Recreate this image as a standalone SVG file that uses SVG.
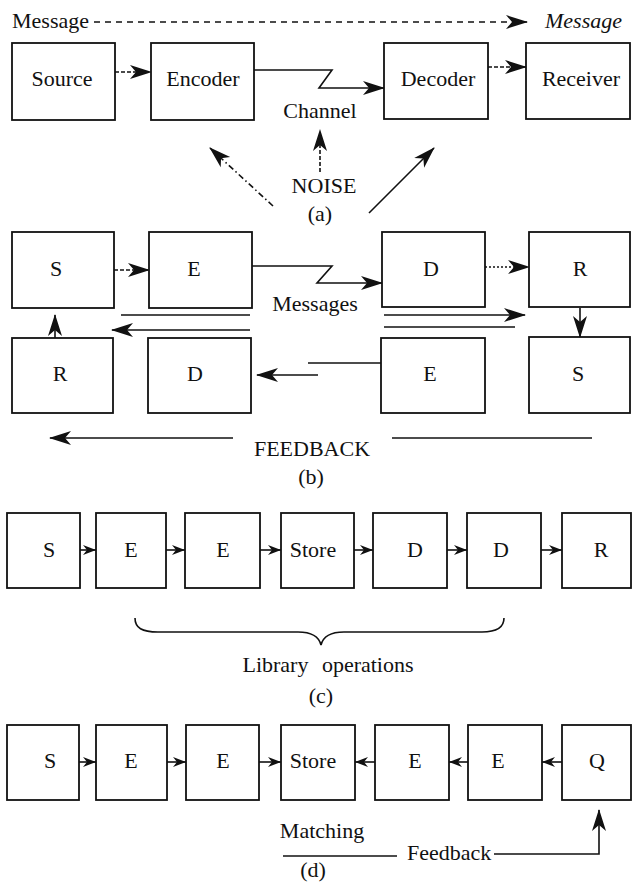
<svg xmlns="http://www.w3.org/2000/svg" width="632" height="882" viewBox="0 0 632 882">
<defs>
<marker id="ah" markerWidth="22" markerHeight="16" refX="21" refY="8" orient="auto" markerUnits="userSpaceOnUse"><path d="M0,1 L22,8 L0,15 L6,8 z" fill="#111"/></marker>
<marker id="sh" markerWidth="13" markerHeight="10" refX="13" refY="5" orient="auto" markerUnits="userSpaceOnUse"><path d="M0,0 L13,5 L0,10 L4,5 z" fill="#111"/></marker>
</defs>
<style>
rect{fill:#fff;stroke:#111;stroke-width:1.8}
text{fill:#111;font-family:Liberation Serif,DejaVu Serif,Times New Roman,serif;font-size:22px}
.m{text-anchor:middle}
line,polyline,path.l{fill:none;stroke:#111;stroke-width:1.6}
.a{marker-end:url(#ah)}
.s{marker-end:url(#sh)}
.d{stroke-dasharray:6,5}
.ds{stroke-dasharray:4,2}
.dt{stroke-dasharray:2,2}
.dd{stroke-dasharray:6,3,1.5,3}
</style>
<g id="connectors">
<line class="d a" x1="94" y1="22" x2="527" y2="22"/>
<line class="ds a" x1="115" y1="72" x2="151" y2="72"/>
<polyline class="a" points="254,70 332,70 319,88 384,88"/>
<line class="ds a" x1="488" y1="67" x2="526" y2="67"/>
<line class="ds a" x1="320" y1="172" x2="320" y2="130"/>
<line class="dd a" x1="273" y1="206" x2="210" y2="148"/>
<line class="a" x1="369" y1="213" x2="434" y2="148"/>
<line class="ds a" x1="114" y1="270" x2="149" y2="270"/>
<polyline class="a" points="252,266 332,266 317,283 382,283"/>
<line class="dt a" x1="485" y1="267" x2="529" y2="267"/>
<line class="a" x1="55" y1="338" x2="55" y2="315"/>
<line class="a" x1="580" y1="308" x2="580" y2="337"/>
<line x1="121" y1="315" x2="250" y2="315"/>
<line class="a" x1="250" y1="330" x2="112" y2="330"/>
<line class="a" x1="384" y1="315" x2="525" y2="315"/>
<line x1="384" y1="327" x2="515" y2="327"/>
<line x1="381" y1="363" x2="308" y2="363"/>
<line class="a" x1="318" y1="375" x2="257" y2="375"/>
<line class="a" x1="233" y1="438" x2="50" y2="438"/>
<line x1="392" y1="438" x2="592" y2="438"/>
<line class="s" x1="80" y1="550" x2="96" y2="550"/>
<line class="s" x1="166" y1="550" x2="185" y2="550"/>
<line class="s" x1="260" y1="550" x2="281" y2="550"/>
<line class="s" x1="354" y1="550" x2="373" y2="550"/>
<line class="s" x1="447" y1="550" x2="467" y2="550"/>
<line class="s" x1="541" y1="550" x2="562" y2="550"/>
<path class="l" d="M135,618 C135,628 142,632 158,632 L298,632 C313,632 319,637 321,645 C323,637 329,632 344,632 L482,632 C496,632 504,628 504,618"/>
<line class="s" x1="79" y1="762" x2="96" y2="762"/>
<line class="s" x1="167" y1="762" x2="186" y2="762"/>
<line class="s" x1="259" y1="762" x2="281" y2="762"/>
<line class="s" x1="375" y1="762" x2="355" y2="762"/>
<line class="s" x1="468" y1="762" x2="449" y2="762"/>
<line class="s" x1="562" y1="762" x2="542" y2="762"/>
<line x1="283" y1="856" x2="397" y2="856"/>
<polyline class="a" points="494,854 599,854 599,810"/>
</g>
<g id="labels">
<text x="12" y="28">Message</text>
<text x="545" y="28" font-style="italic">Message</text>
<text class="m" x="320" y="118">Channel</text>
<text class="m" x="324" y="193">NOISE</text>
<text class="m" x="320" y="221">(a)</text>
<text class="m" x="315" y="311">Messages</text>
<text class="m" x="312" y="456">FEEDBACK</text>
<text class="m" x="311" y="484">(b)</text>
<text class="m" x="328" y="672" word-spacing="8">Library operations</text>
<text class="m" x="321" y="703">(c)</text>
<text class="m" x="322" y="838">Matching</text>
<text x="407" y="860">Feedback</text>
<text class="m" x="313" y="877">(d)</text>
</g>
<g id="a-source"><rect x="12" y="43" width="103" height="77"/><text class="m" x="62" y="86">Source</text></g>
<g id="a-encoder"><rect x="151" y="43" width="103" height="77"/><text class="m" x="203" y="86">Encoder</text></g>
<g id="a-decoder"><rect x="384" y="43" width="104" height="76"/><text class="m" x="438" y="86">Decoder</text></g>
<g id="a-receiver"><rect x="526" y="43" width="104" height="76"/><text class="m" x="581" y="86">Receiver</text></g>
<g id="b-s1"><rect x="12" y="232" width="102" height="76"/><text class="m" x="56" y="276">S</text></g>
<g id="b-e1"><rect x="149" y="232" width="103" height="76"/><text class="m" x="194" y="276">E</text></g>
<g id="b-d1"><rect x="382" y="232" width="103" height="75"/><text class="m" x="431" y="276">D</text></g>
<g id="b-r1"><rect x="529" y="232" width="101" height="75"/><text class="m" x="580" y="276">R</text></g>
<g id="b-r2"><rect x="12" y="338" width="101" height="75"/><text class="m" x="60" y="381">R</text></g>
<g id="b-d2"><rect x="148" y="338" width="103" height="75"/><text class="m" x="195" y="381">D</text></g>
<g id="b-e2"><rect x="381" y="338" width="104" height="75"/><text class="m" x="430" y="381">E</text></g>
<g id="b-s2"><rect x="529" y="337" width="101" height="76"/><text class="m" x="578" y="381">S</text></g>
<g id="c-s"><rect x="7" y="513" width="73" height="75"/><text class="m" x="49" y="557">S</text></g>
<g id="c-e1"><rect x="96" y="513" width="70" height="75"/><text class="m" x="131" y="557">E</text></g>
<g id="c-e2"><rect x="185" y="513" width="75" height="75"/><text class="m" x="223" y="557">E</text></g>
<g id="c-store"><rect x="281" y="513" width="73" height="75"/><text class="m" x="313" y="557">Store</text></g>
<g id="c-d1"><rect x="373" y="513" width="74" height="75"/><text class="m" x="415" y="557">D</text></g>
<g id="c-d2"><rect x="467" y="513" width="74" height="75"/><text class="m" x="501" y="557">D</text></g>
<g id="c-r"><rect x="562" y="513" width="69" height="75"/><text class="m" x="601" y="557">R</text></g>
<g id="d-s"><rect x="7" y="725" width="72" height="75"/><text class="m" x="50" y="768">S</text></g>
<g id="d-e1"><rect x="96" y="725" width="71" height="75"/><text class="m" x="131" y="768">E</text></g>
<g id="d-e2"><rect x="186" y="725" width="73" height="75"/><text class="m" x="223" y="768">E</text></g>
<g id="d-store"><rect x="281" y="725" width="74" height="75"/><text class="m" x="313" y="768">Store</text></g>
<g id="d-e3"><rect x="375" y="725" width="74" height="75"/><text class="m" x="415" y="768">E</text></g>
<g id="d-e4"><rect x="468" y="725" width="74" height="75"/><text class="m" x="498" y="768">E</text></g>
<g id="d-q"><rect x="562" y="725" width="69" height="75"/><text class="m" x="597" y="768">Q</text></g>
</svg>
